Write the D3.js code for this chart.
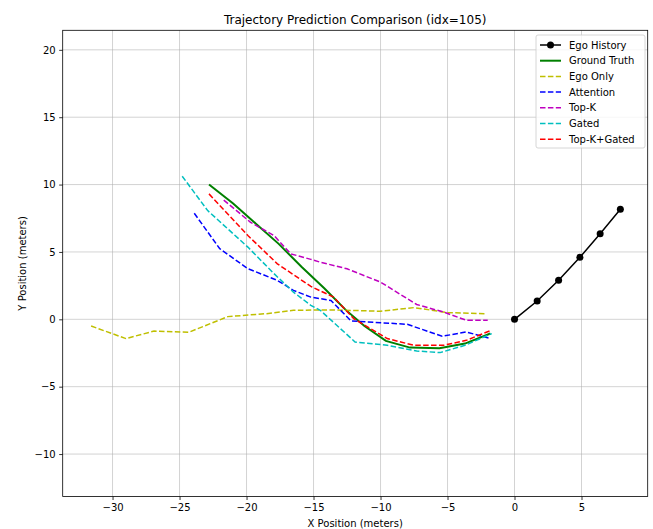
<!DOCTYPE html>
<html><head><meta charset="utf-8">
<script src="https://cdn.jsdelivr.net/npm/d3@7"></script>
<style>body{margin:0;background:#fff}svg{display:block}text{font-family:"DejaVu Sans",sans-serif}</style>
</head><body><svg id="c" width="653" height="529"></svg>
<script>
const xTicks = [-30,-25,-20,-15,-10,-5,0,5];
const yTicks = [-10,-5,0,5,10,15,20];
const egoHistory = [[0,0],[1.69,1.36],[3.29,2.90],[4.88,4.60],[6.39,6.35],[7.9,8.17]];
const groundTruth = [[-22.8,10.0],[-21.0,8.6],[-19.3,7.1],[-17.6,5.6],[-15.9,3.9],[-14.2,2.3],[-12.6,0.7],[-11.2,-0.5],[-9.6,-1.6],[-7.8,-2.1],[-5.6,-2.15],[-3.7,-1.8],[-1.8,-1.05]];
const egoOnly = [[-31.6,-0.5],[-29.0,-1.43],[-26.9,-0.87],[-24.3,-0.96],[-21.4,0.2],[-18.5,0.42],[-16.5,0.67],[-13.5,0.7],[-10.0,0.6],[-7.5,0.87],[-5.0,0.5],[-2.2,0.42]];
const attention = [[-23.9,7.87],[-22.0,5.24],[-19.9,3.76],[-17.7,2.89],[-16.5,2.15],[-15.2,1.65],[-13.7,1.4],[-12.2,-0.12],[-8.0,-0.37],[-5.4,-1.26],[-3.6,-0.94],[-1.8,-1.43]];
const topK = [[-21.7,8.85],[-19.7,7.2],[-17.95,6.22],[-16.7,4.86],[-15.2,4.45],[-14.5,4.24],[-12.5,3.75],[-10.0,2.76],[-7.3,1.1],[-5.3,0.54],[-3.6,-0.07],[-2.0,-0.07]];
const gated = [[-24.8,10.62],[-22.9,8.07],[-19.9,5.36],[-17.95,3.39],[-16.5,2.02],[-15.2,1.04],[-14.5,0.67],[-11.9,-1.68],[-9.5,-1.93],[-7.3,-2.35],[-5.55,-2.47],[-3.7,-1.93],[-1.7,-1.06]];
const topKGated = [[-22.8,9.31],[-19.9,6.22],[-17.7,4.12],[-15.2,2.44],[-13.5,1.65],[-12.0,0.05],[-9.5,-1.43],[-7.5,-1.93],[-5.3,-1.93],[-3.6,-1.56],[-1.85,-0.86]];

const series = [
  {name:"Ego History", data:egoHistory, color:"#000000", dash:null, marker:true, w:1.5},
  {name:"Ground Truth", data:groundTruth, color:"#008000", dash:null, w:2},
  {name:"Ego Only", data:egoOnly, color:"#bfbf00", dash:"5.5,2.4", w:1.5},
  {name:"Attention", data:attention, color:"#0000ff", dash:"5.5,2.4", w:1.5},
  {name:"Top-K", data:topK, color:"#bf00bf", dash:"5.5,2.4", w:1.5},
  {name:"Gated", data:gated, color:"#00bfbf", dash:"5.5,2.4", w:1.5},
  {name:"Top-K+Gated", data:topKGated, color:"#ff0000", dash:"5.5,2.4", w:1.5}
];

const L=62.7,R=647.7,T=30.3,B=496.5;
const x=d3.scaleLinear().domain([-33.72,9.94]).range([L,R]);
const y=d3.scaleLinear().domain([-13.15,21.45]).range([B,T]);
const svg=d3.select("#c");

// grid
svg.append("g").selectAll("line").data(xTicks).join("line")
 .attr("x1",d=>x(d)).attr("x2",d=>x(d)).attr("y1",T).attr("y2",B)
 .attr("stroke","#b0b0b0").attr("stroke-opacity",0.7).attr("stroke-width",0.8);
svg.append("g").selectAll("line").data(yTicks).join("line")
 .attr("y1",d=>y(d)).attr("y2",d=>y(d)).attr("x1",L).attr("x2",R)
 .attr("stroke","#b0b0b0").attr("stroke-opacity",0.7).attr("stroke-width",0.8);

const fmt=d=>d<0?"\u2212"+Math.abs(d):String(d);
const xa=svg.append("g").attr("transform",`translate(0,${B})`)
 .call(d3.axisBottom(x).tickValues(xTicks).tickFormat(fmt).tickSize(3.5).tickPadding(3.5));
const ya=svg.append("g").attr("transform",`translate(${L},0)`)
 .call(d3.axisLeft(y).tickValues(yTicks).tickFormat(fmt).tickSize(3.5).tickPadding(3.5));
[xa,ya].forEach(a=>{a.select(".domain").remove();a.selectAll("text").attr("font-size",10).attr("fill","#000").attr("font-family","DejaVu Sans");a.selectAll("line").attr("stroke","#000").attr("stroke-width",0.8);});

const line=d3.line().x(d=>x(d[0])).y(d=>y(d[1]));
const plot=svg.append("g");
series.forEach(s=>{
  plot.append("path").attr("d",line(s.data)).attr("fill","none").attr("stroke",s.color)
   .attr("stroke-width",s.w).attr("stroke-dasharray",s.dash);
  if(s.marker){
    plot.selectAll(null).data(s.data).join("circle").attr("cx",d=>x(d[0])).attr("cy",d=>y(d[1]))
     .attr("r",3.5).attr("fill",s.color);
  }
});

// frame
svg.append("rect").attr("x",L).attr("y",T).attr("width",R-L).attr("height",B-T)
 .attr("fill","none").attr("stroke","#000").attr("stroke-width",0.8);

// title & labels
svg.append("text").attr("x",(L+R)/2).attr("y",24).attr("text-anchor","middle").attr("font-size",12).text("Trajectory Prediction Comparison (idx=105)");
svg.append("text").attr("x",(L+R)/2).attr("y",527).attr("text-anchor","middle").attr("font-size",10).text("X Position (meters)");
svg.append("text").attr("transform",`translate(26,${(T+B)/2}) rotate(-90)`).attr("text-anchor","middle").attr("font-size",10).text("Y Position (meters)");

// legend
const lg=svg.append("g");
lg.append("rect").attr("x",536).attr("y",35).attr("width",109).attr("height",113).attr("rx",2)
 .attr("fill","#fff").attr("fill-opacity",0.8).attr("stroke","#cccccc").attr("stroke-width",0.8);
series.forEach((s,i)=>{
  const yy=45+i*15.7;
  lg.append("line").attr("x1",540).attr("x2",561).attr("y1",yy).attr("y2",yy).attr("stroke",s.color)
   .attr("stroke-width",s.w).attr("stroke-dasharray",s.dash);
  if(s.marker) lg.append("circle").attr("cx",550.5).attr("cy",yy).attr("r",3.5).attr("fill",s.color);
  lg.append("text").attr("x",569).attr("y",yy+3.6).attr("font-size",10).text(s.name);
});
</script></body></html>
